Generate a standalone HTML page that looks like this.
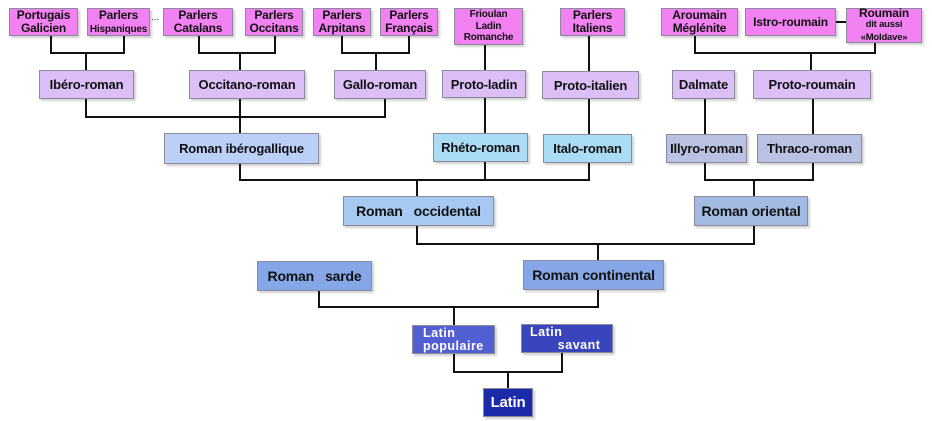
<!DOCTYPE html>
<html><head><meta charset="utf-8"><style>
body{margin:0;width:932px;height:421px;background:#fff;position:relative;overflow:hidden;font-family:"Liberation Sans",sans-serif;}
.b{position:absolute;box-sizing:border-box;border:1px solid #8a8a9a;box-shadow:2px 2px 2px rgba(0,0,0,0.18);display:flex;align-items:center;justify-content:center;text-align:center;font-weight:bold;color:#111;font-size:13px;line-height:13px;letter-spacing:-0.2px;}
.p{background:#f281f2;font-size:12px;line-height:13px;}
.l{background:#dcbff6;}
.h{position:absolute;background:#111;height:2px;}
.v{position:absolute;background:#111;width:2px;}
.w{color:#fff;}
</style></head><body>
<div class="b p" style="left:9px;top:8px;width:69px;height:28px">Portugais<br>Galicien</div>
<div class="b p" style="left:87px;top:8px;width:63px;height:28px;"><span>Parlers<br><span style="font-size:10px">Hispaniques</span></span></div>
<div style="position:absolute;left:151px;top:12px;font-size:10px;color:#333">...</div>
<div class="b p" style="left:163px;top:8px;width:70px;height:28px">Parlers<br>Catalans</div>
<div class="b p" style="left:245px;top:8px;width:58px;height:28px">Parlers<br>Occitans</div>
<div class="b p" style="left:313px;top:8px;width:58px;height:28px">Parlers<br>Arpitans</div>
<div class="b p" style="left:380px;top:8px;width:58px;height:28px">Parlers<br>Français</div>
<div class="b p" style="left:454px;top:8px;width:69px;height:37px;font-size:10px;line-height:11.5px">Frioulan<br>Ladin<br>Romanche</div>
<div class="b p" style="left:560px;top:8px;width:65px;height:28px">Parlers<br>Italiens</div>
<div class="b p" style="left:661px;top:8px;width:77px;height:28px">Aroumain<br>Méglénite</div>
<div class="b p" style="left:745px;top:8px;width:91px;height:28px">Istro-roumain</div>
<div class="b p" style="left:846px;top:8px;width:76px;height:35px;line-height:10.5px"><span>Roumain<br><span style="font-size:9.5px">dit aussi<br>«Moldave»</span></span></div>
<div class="h" style="left:836px;top:21px;width:10px"></div>
<div class="v" style="left:50px;top:36px;height:18px"></div>
<div class="v" style="left:123px;top:36px;height:18px"></div>
<div class="h" style="left:50px;top:52px;width:75px"></div>
<div class="v" style="left:85px;top:52px;height:18px"></div>
<div class="v" style="left:198px;top:36px;height:18px"></div>
<div class="v" style="left:274px;top:36px;height:18px"></div>
<div class="h" style="left:198px;top:52px;width:78px"></div>
<div class="v" style="left:239px;top:52px;height:18px"></div>
<div class="v" style="left:341px;top:36px;height:18px"></div>
<div class="v" style="left:408px;top:36px;height:18px"></div>
<div class="h" style="left:341px;top:52px;width:69px"></div>
<div class="v" style="left:375px;top:52px;height:18px"></div>
<div class="v" style="left:484px;top:45px;height:25px"></div>
<div class="v" style="left:588px;top:36px;height:35px"></div>
<div class="v" style="left:694px;top:36px;height:18px"></div>
<div class="v" style="left:874px;top:43px;height:11px"></div>
<div class="h" style="left:694px;top:52px;width:182px"></div>
<div class="v" style="left:810px;top:52px;height:18px"></div>
<div class="b l" style="left:39px;top:70px;width:95px;height:29px">Ibéro-roman</div>
<div class="b l" style="left:189px;top:70px;width:116px;height:29px">Occitano-roman</div>
<div class="b l" style="left:334px;top:70px;width:92px;height:29px">Gallo-roman</div>
<div class="b l" style="left:442px;top:70px;width:84px;height:28px">Proto-ladin</div>
<div class="b l" style="left:542px;top:71px;width:97px;height:28px">Proto-italien</div>
<div class="b l" style="left:672px;top:70px;width:63px;height:29px">Dalmate</div>
<div class="b l" style="left:753px;top:70px;width:118px;height:29px">Proto-roumain</div>
<div class="v" style="left:85px;top:99px;height:19px"></div>
<div class="v" style="left:239px;top:99px;height:34px"></div>
<div class="v" style="left:384px;top:99px;height:19px"></div>
<div class="h" style="left:85px;top:116px;width:301px"></div>
<div class="v" style="left:484px;top:98px;height:35px"></div>
<div class="v" style="left:588px;top:99px;height:35px"></div>
<div class="v" style="left:704px;top:99px;height:35px"></div>
<div class="v" style="left:812px;top:99px;height:35px"></div>
<div class="b" style="left:164px;top:133px;width:155px;height:31px;background:#bcd0f7">Roman ibérogallique</div>
<div class="b" style="left:433px;top:133px;width:95px;height:29px;background:#aadcf6">Rhéto-roman</div>
<div class="b" style="left:543px;top:134px;width:89px;height:29px;background:#aadcf6">Italo-roman</div>
<div class="b" style="left:666px;top:134px;width:81px;height:29px;background:#b9c2e2">Illyro-roman</div>
<div class="b" style="left:757px;top:134px;width:105px;height:29px;background:#b9c2e2">Thraco-roman</div>
<div class="v" style="left:239px;top:164px;height:17px"></div>
<div class="v" style="left:484px;top:162px;height:19px"></div>
<div class="v" style="left:588px;top:163px;height:18px"></div>
<div class="h" style="left:239px;top:179px;width:351px"></div>
<div class="v" style="left:416px;top:179px;height:17px"></div>
<div class="v" style="left:704px;top:163px;height:18px"></div>
<div class="v" style="left:812px;top:163px;height:18px"></div>
<div class="h" style="left:704px;top:179px;width:110px"></div>
<div class="v" style="left:753px;top:179px;height:17px"></div>
<div class="b" style="left:343px;top:196px;width:151px;height:30px;background:#a6c9f1;font-size:14px">Roman&nbsp;&nbsp; occidental</div>
<div class="b" style="left:694px;top:196px;width:114px;height:30px;background:#a3bbe3;font-size:14px">Roman oriental</div>
<div class="v" style="left:416px;top:226px;height:19px"></div>
<div class="v" style="left:753px;top:226px;height:19px"></div>
<div class="h" style="left:416px;top:243px;width:339px"></div>
<div class="v" style="left:597px;top:243px;height:17px"></div>
<div class="b" style="left:257px;top:261px;width:115px;height:30px;background:#86a7e7;font-size:14px">Roman&nbsp;&nbsp; sarde</div>
<div class="b" style="left:523px;top:260px;width:141px;height:30px;background:#86a7e7;font-size:14px">Roman continental</div>
<div class="v" style="left:318px;top:291px;height:17px"></div>
<div class="v" style="left:597px;top:290px;height:18px"></div>
<div class="h" style="left:318px;top:306px;width:281px"></div>
<div class="v" style="left:453px;top:306px;height:19px"></div>
<div class="b w" style="left:412px;top:325px;width:83px;height:29px;background:#525fd2;justify-content:flex-start;padding-left:10px;text-align:left;font-size:12.5px;line-height:13px;letter-spacing:0.5px">Latin<br>populaire</div>
<div class="b w" style="left:521px;top:324px;width:92px;height:29px;background:#3a45bd;justify-content:flex-start;padding-left:8px;text-align:left;font-size:12.5px;line-height:13px;letter-spacing:0.5px">Latin<br>&nbsp;&nbsp;&nbsp;&nbsp;&nbsp;&nbsp;&nbsp;savant</div>
<div class="v" style="left:453px;top:354px;height:19px"></div>
<div class="v" style="left:561px;top:353px;height:20px"></div>
<div class="h" style="left:453px;top:371px;width:110px"></div>
<div class="v" style="left:507px;top:371px;height:17px"></div>
<div class="b w" style="left:483px;top:388px;width:50px;height:29px;background:#1a2aa8;font-size:15px">Latin</div>
</body></html>
